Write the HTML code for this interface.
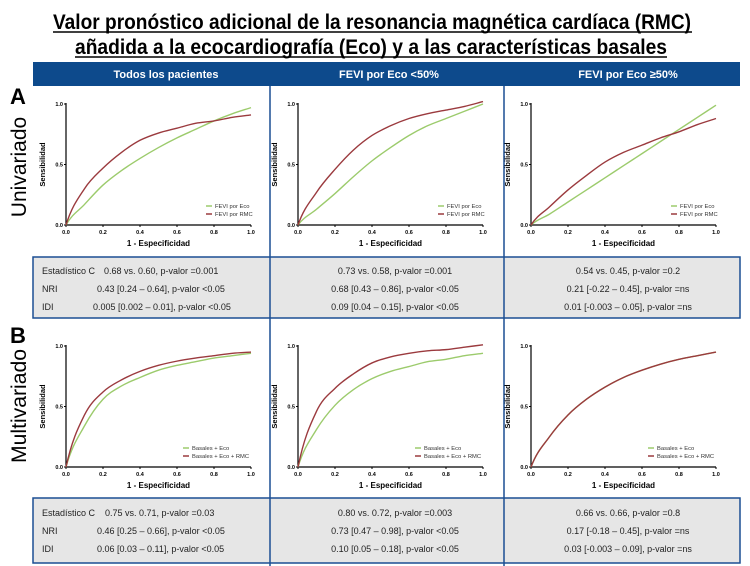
<!DOCTYPE html>
<html><head><meta charset="utf-8"><style>
html,body{margin:0;padding:0;background:#fff;}
svg{display:block;font-family:"Liberation Sans",Arial,sans-serif;}
</style></head><body>
<svg id="fig" width="750" height="566" viewBox="0 0 750 566">
<text x="372" y="29" text-anchor="middle" font-size="21" font-weight="bold" textLength="638" lengthAdjust="spacingAndGlyphs">Valor pronóstico adicional de la resonancia magnética cardíaca (RMC)</text>
<line x1="53" y1="32" x2="692" y2="32" stroke="#000" stroke-width="1.5"/>
<text x="371" y="54" text-anchor="middle" font-size="21" font-weight="bold" textLength="592" lengthAdjust="spacingAndGlyphs">añadida a la ecocardiografía (Eco) y a las características basales</text>
<line x1="75" y1="57" x2="667" y2="57" stroke="#000" stroke-width="1.5"/>
<rect x="33" y="62" width="707" height="24" fill="#0d4a8c"/>
<text x="166" y="78" text-anchor="middle" fill="#fff" font-size="11" font-weight="bold">Todos los pacientes</text>
<text x="389" y="78" text-anchor="middle" fill="#fff" font-size="11" font-weight="bold">FEVI por Eco &lt;50%</text>
<text x="628" y="78" text-anchor="middle" fill="#fff" font-size="11" font-weight="bold">FEVI por Eco ≥50%</text>
<line x1="270" y1="86" x2="270" y2="566" stroke="#1b4f93" stroke-width="1.5"/>
<line x1="504" y1="86" x2="504" y2="566" stroke="#1b4f93" stroke-width="1.5"/>
<text x="10" y="104" font-size="22" font-weight="bold">A</text>
<text x="0" y="0" font-size="21" transform="translate(26,167) rotate(-90)" text-anchor="middle">Univariado</text>
<text x="10" y="343" font-size="22" font-weight="bold">B</text>
<text x="0" y="0" font-size="21" transform="translate(26,406) rotate(-90)" text-anchor="middle" textLength="114" lengthAdjust="spacingAndGlyphs">Multivariado</text>

<rect x="33" y="257" width="707" height="61" fill="#e6e6e6" stroke="#1b4f93" stroke-width="1.5"/>
<rect x="33" y="498" width="707" height="65" fill="#e6e6e6" stroke="#1b4f93" stroke-width="1.5"/>
<line x1="270" y1="257" x2="270" y2="318" stroke="#1b4f93" stroke-width="1.5"/>
<line x1="504" y1="257" x2="504" y2="318" stroke="#1b4f93" stroke-width="1.5"/>
<line x1="270" y1="498" x2="270" y2="563" stroke="#1b4f93" stroke-width="1.5"/>
<line x1="504" y1="498" x2="504" y2="563" stroke="#1b4f93" stroke-width="1.5"/>
<g font-size="9" fill="#222">
<text x="42" y="274">Estadístico C</text><text x="104" y="274">0.68 vs. 0.60, p-valor =0.001</text>
<text x="42" y="292">NRI</text><text x="97" y="292">0.43 [0.24 – 0.64], p-valor &lt;0.05</text>
<text x="42" y="310">IDI</text><text x="93" y="310">0.005 [0.002 – 0.01], p-valor &lt;0.05</text>
<text x="395" y="274" text-anchor="middle">0.73 vs. 0.58, p-valor =0.001</text>
<text x="395" y="292" text-anchor="middle">0.68 [0.43 – 0.86], p-valor &lt;0.05</text>
<text x="395" y="310" text-anchor="middle">0.09 [0.04 – 0.15], p-valor &lt;0.05</text>
<text x="628" y="274" text-anchor="middle">0.54 vs. 0.45, p-valor =0.2</text>
<text x="628" y="292" text-anchor="middle">0.21 [-0.22 – 0.45], p-valor =ns</text>
<text x="628" y="310" text-anchor="middle">0.01 [-0.003 – 0.05], p-valor =ns</text>
<text x="42" y="516">Estadístico C</text><text x="105" y="516">0.75 vs. 0.71, p-valor =0.03</text>
<text x="42" y="534">NRI</text><text x="97" y="534">0.46 [0.25 – 0.66], p-valor &lt;0.05</text>
<text x="42" y="552">IDI</text><text x="97" y="552">0.06 [0.03 – 0.11], p-valor &lt;0.05</text>
<text x="395" y="516" text-anchor="middle">0.80 vs. 0.72, p-valor =0.003</text>
<text x="395" y="534" text-anchor="middle">0.73 [0.47 – 0.98], p-valor &lt;0.05</text>
<text x="395" y="552" text-anchor="middle">0.10 [0.05 – 0.18], p-valor &lt;0.05</text>
<text x="628" y="516" text-anchor="middle">0.66 vs. 0.66, p-valor =0.8</text>
<text x="628" y="534" text-anchor="middle">0.17 [-0.18 – 0.45], p-valor =ns</text>
<text x="628" y="552" text-anchor="middle">0.03 [-0.003 – 0.09], p-valor =ns</text>
</g>
<g id="charts"></g>
</svg>
<script>
const fprTicks = [0, 0.1, 0.2, 0.3, 0.4, 0.5, 0.6, 0.7, 0.8, 0.9, 1.0];
const axisTickLabels = ["0.0", "0.2", "0.4", "0.6", "0.8", "1.0"];
const yTickLabels = ["0.0", "0.5", "1.0"];
const a1Eco = [0, 0.17, 0.33, 0.45, 0.55, 0.64, 0.72, 0.79, 0.86, 0.92, 0.97];
const a1Rmc = [0, 0.30, 0.47, 0.60, 0.70, 0.76, 0.80, 0.84, 0.86, 0.89, 0.91];
const a2Eco = [0, 0.13, 0.26, 0.40, 0.53, 0.64, 0.74, 0.82, 0.88, 0.94, 1.0];
const a2Rmc = [0, 0.27, 0.46, 0.62, 0.74, 0.82, 0.88, 0.92, 0.95, 0.98, 1.02];
const a3Eco = [0, 0.09, 0.19, 0.29, 0.39, 0.49, 0.59, 0.69, 0.79, 0.89, 0.99];
const a3Rmc = [0, 0.15, 0.29, 0.41, 0.52, 0.60, 0.66, 0.72, 0.77, 0.83, 0.88];
const b1Eco = [0, 0.34, 0.56, 0.67, 0.74, 0.80, 0.84, 0.87, 0.90, 0.92, 0.94];
const b1Rmc = [0, 0.43, 0.62, 0.72, 0.79, 0.84, 0.875, 0.90, 0.92, 0.94, 0.95];
const b2Eco = [0, 0.31, 0.51, 0.64, 0.73, 0.79, 0.83, 0.87, 0.89, 0.92, 0.94];
const b2Rmc = [0, 0.46, 0.65, 0.77, 0.86, 0.91, 0.94, 0.96, 0.97, 0.99, 1.01];
const b3Eco = [0, 0.25, 0.43, 0.56, 0.66, 0.74, 0.80, 0.85, 0.89, 0.92, 0.95];
const b3Rmc = [0, 0.25, 0.43, 0.56, 0.66, 0.74, 0.80, 0.85, 0.89, 0.92, 0.95];
const legendUni = ["FEVI por Eco", "FEVI por RMC"];
const legendMulti = ["Basales + Eco", "Basales + Eco + RMC"];

const NS = "http://www.w3.org/2000/svg";
const root = document.getElementById("charts");
function mk(tag, attrs, parent) {
  const e = document.createElementNS(NS, tag);
  for (const k in attrs) e.setAttribute(k, attrs[k]);
  parent.appendChild(e);
  return e;
}
function monotonePath(pts) {
  const n = pts.length, dx = [], m = [], t = new Array(n);
  for (let i = 0; i < n - 1; i++) { dx.push(pts[i+1][0]-pts[i][0]); m.push((pts[i+1][1]-pts[i][1])/dx[i]); }
  t[0] = m[0]; t[n-1] = m[n-2];
  for (let i = 1; i < n - 1; i++) t[i] = (m[i-1]*m[i] <= 0) ? 0 : (m[i-1]+m[i])/2;
  for (let i = 0; i < n - 1; i++) {
    if (m[i] === 0) { t[i] = 0; t[i+1] = 0; continue; }
    const a = t[i]/m[i], b = t[i+1]/m[i], s = a*a + b*b;
    if (s > 9) { const k = 3/Math.sqrt(s); t[i] = k*a*m[i]; t[i+1] = k*b*m[i]; }
  }
  // steeper start to mimic ROC
  t[0] = Math.min(t[0], m[0]) * 1.6;
  let d = `M${pts[0][0]},${pts[0][1]}`;
  for (let i = 0; i < n - 1; i++) {
    const h = dx[i] / 3;
    d += ` C${pts[i][0]+h},${pts[i][1]+t[i]*h} ${pts[i+1][0]-h},${pts[i+1][1]-t[i+1]*h} ${pts[i+1][0]},${pts[i+1][1]}`;
  }
  return d;
}
function drawChart(name, x0, yTop, eco, rmc, legend, legOff) {
  const w = 185, h = 121, y0 = yTop + h;
  const sx = v => x0 + v * w, sy = v => y0 - v * h;
  const g = mk("g", {}, root);
  
  
  mk("line", {x1: x0, y1: y0, x2: x0 + w, y2: y0, stroke: "#000", "stroke-width": 1.2}, g);
  mk("line", {x1: x0, y1: y0, x2: x0, y2: yTop - 1, stroke: "#000", "stroke-width": 1.2}, g);
  axisTickLabels.forEach(t => {
    const v = parseFloat(t);
    mk("line", {x1: sx(v), y1: y0, x2: sx(v), y2: y0 + 2, stroke: "#000"}, g);
    const tx = mk("text", {x: sx(v), y: y0 + 9, "font-size": 5.5, "font-weight": "bold", "text-anchor": "middle"}, g);
    tx.textContent = t;
  });
  yTickLabels.forEach(t => {
    const v = parseFloat(t);
    mk("line", {x1: x0 - 2, y1: sy(v), x2: x0, y2: sy(v), stroke: "#000"}, g);
    const tx = mk("text", {x: x0 - 3, y: sy(v) + 2, "font-size": 5.5, "font-weight": "bold", "text-anchor": "end"}, g);
    tx.textContent = t;
  });
  const xl = mk("text", {x: x0 + w / 2, y: y0 + 21, "font-size": 8, "font-weight": "bold", "text-anchor": "middle"}, g);
  xl.textContent = "1 - Especificidad";
  
  const yl = mk("text", {transform: `translate(${x0 - 21},${yTop + h / 2}) rotate(-90)`, "font-size": 7.5, "font-weight": "bold", "text-anchor": "middle"}, g);
  yl.textContent = "Sensibilidad";
  
  function path(vals, color, nm) {
    const pts = fprTicks.map((f, i) => [sx(f), sy(vals[i])]);
    const p = mk("path", {d: monotonePath(pts), fill: "none", stroke: color, "stroke-width": 1.4}, g);
    
    
  }
  path(eco, "#9ccb6c", "curve-eco");
  path(rmc, "#9b3a3e", "curve-rmc");
  const lx = x0 + legOff, ly = y0 - 19;
  [["#9ccb6c", legend[0]], ["#9b3a3e", legend[1]]].forEach((it, i) => {
    mk("line", {x1: lx, y1: ly + i * 8, x2: lx + 6, y2: ly + i * 8, stroke: it[0], "stroke-width": 1.5}, g);
    const t = mk("text", {x: lx + 9, y: ly + i * 8 + 2, "font-size": 5.8, fill: "#333"}, g);
    t.textContent = it[1];
    
    
  });
}
drawChart("roc-univariado-todos", 66, 104, a1Eco, a1Rmc, legendUni, 140);
drawChart("roc-univariado-fevi-lt50", 298, 104, a2Eco, a2Rmc, legendUni, 140);
drawChart("roc-univariado-fevi-ge50", 531, 104, a3Eco, a3Rmc, legendUni, 140);
drawChart("roc-multivariado-todos", 66, 346, b1Eco, b1Rmc, legendMulti, 117);
drawChart("roc-multivariado-fevi-lt50", 298, 346, b2Eco, b2Rmc, legendMulti, 117);
drawChart("roc-multivariado-fevi-ge50", 531, 346, b3Eco, b3Rmc, legendMulti, 117);
</script>
</body></html>
